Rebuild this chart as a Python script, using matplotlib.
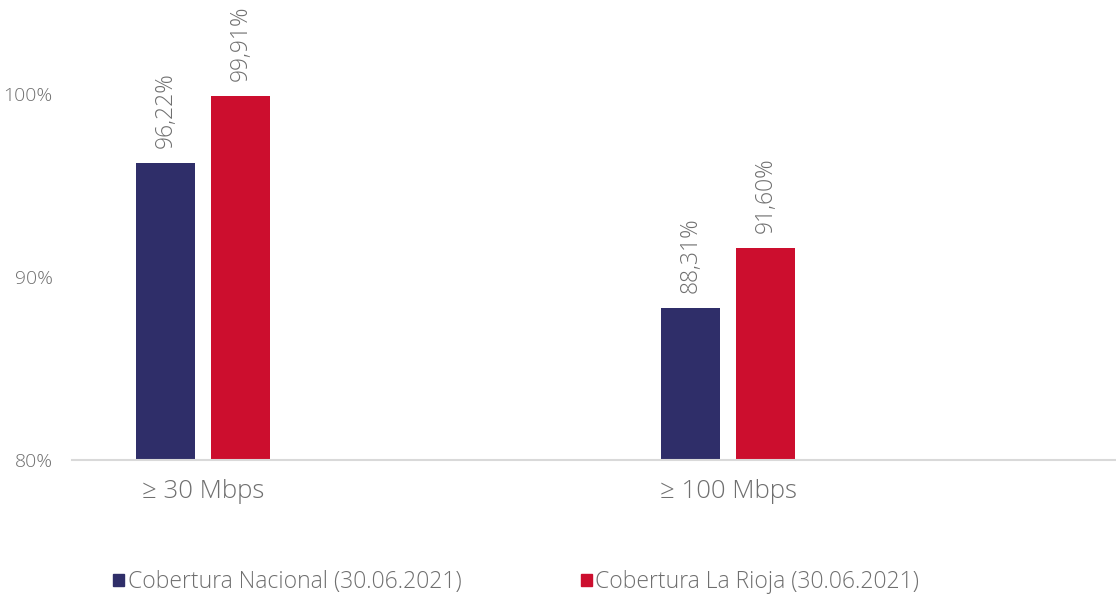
import matplotlib
matplotlib.use('Agg')
import matplotlib.pyplot as plt
from matplotlib.patches import Patch
import numpy as np

plt.rcParams['font.family'] = ['Open Sans', 'DejaVu Sans']
plt.rcParams['font.weight'] = 'light'

categories = ['≥ 30 Mbps', '≥ 100 Mbps']
nacional = [96.22, 88.31]
rioja = [99.91, 91.60]
series_names = ['Cobertura Nacional (30.06.2021)', 'Cobertura La Rioja (30.06.2021)']
yticks = [80, 90, 100]

navy = '#2f2e69'
red = '#cc0e2e'
grey = '#6f6f6f'

fig = plt.figure(figsize=(11.16, 5.97), dpi=100)
ax = fig.add_axes([0.0645, 0.2295, 0.9355, 0.7655])

x = np.arange(len(categories))
w = 0.1124
off = 0.0714
b1 = ax.bar(x - off, np.array(nacional) - 80, w, bottom=80, color=navy)
b2 = ax.bar(x + off, np.array(rioja) - 80, w, bottom=80, color=red)

for bars, vals in ((b1, nacional), (b2, rioja)):
    for r, v in zip(bars, vals):
        ax.annotate(('%.2f%%' % v).replace('.', ','),
                    (r.get_x() + r.get_width() / 2, v),
                    xytext=(0, 11), textcoords='offset points',
                    rotation=90, ha='center', va='bottom',
                    fontsize=16.5, color=grey)

ax.set_xlim(-0.2495, 1.739)
ax.set_ylim(80, 105)
ax.set_yticks(yticks)
ax.set_yticklabels(['%d%%' % t for t in yticks], fontsize=14, color=grey)
ax.set_xticks(x)
ax.set_xticklabels(categories, fontsize=18.5, color=grey)
ax.tick_params(axis='both', length=0)
ax.tick_params(axis='y', pad=14)
ax.tick_params(axis='x', pad=14)
for s in ['top', 'right', 'left']:
    ax.spines[s].set_visible(False)
ax.spines['bottom'].set_color('#d9d9d9')
ax.spines['bottom'].set_linewidth(1.5)

handles = [Patch(color=navy), Patch(color=red)]
fig.legend(handles, series_names, loc='center left', bbox_to_anchor=(0.083, 0.025),
           ncol=2, frameon=False, fontsize=16.5, labelcolor=grey,
           handlelength=0.48, handleheight=0.48, handletextpad=0.15,
           columnspacing=5.2)

fig.savefig('out.png', dpi=100)
